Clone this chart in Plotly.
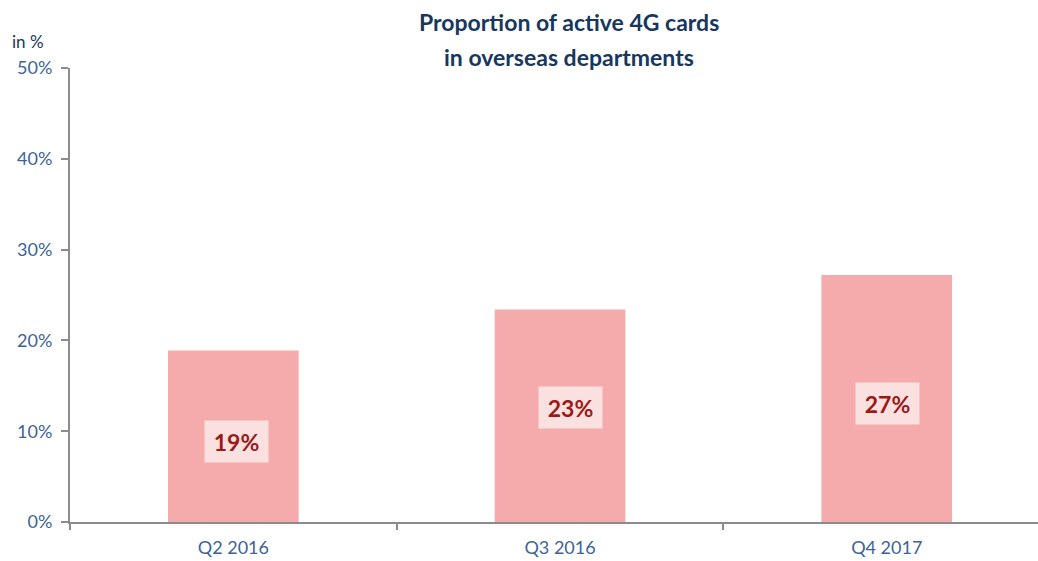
import plotly.graph_objects as go

categories = ["Q2 2016", "Q3 2016", "Q4 2017"]
values = [18.9, 23.4, 27.2]
labels = ["19%", "23%", "27%"]
y_ticks = [0, 10, 20, 30, 40, 50]
y_tick_text = ["0%", "10%", "20%", "30%", "40%", "50%"]

title_lines = ["Proportion of active 4G cards", "in overseas departments"]
unit_text = "in %"

FONT = "Lato"
TICK_COLOR = "#3D6497"
TITLE_COLOR = "#17375E"
AXIS_COLOR = "#8C8C8C"
BAR_COLOR = "#F5ABAB"
LABEL_BG = "#FBE0E0"
LABEL_COLOR = "#9A1A1A"

# label placement tweaks (fraction of bar height, horizontal shift in px)
label_frac = [0.47, 0.54, 0.48]
label_xshift = [3, 10, 1]

fig = go.Figure()
fig.add_trace(go.Bar(
    x=categories, y=values, marker=dict(color=BAR_COLOR, line=dict(width=0)),
    width=0.40, hoverinfo="skip",
))

for c, v, t, f, xs in zip(categories, values, labels, label_frac, label_xshift):
    fig.add_annotation(
        x=c, y=v * f, xref="x", yref="y", text="<b>%s</b>" % t, showarrow=False,
        font=dict(family=FONT, size=23, color=LABEL_COLOR),
        bgcolor=LABEL_BG, width=55, height=33, borderpad=4, xshift=xs,
    )

for i, line in enumerate(title_lines):
    fig.add_annotation(
        x=0.515, y=1.0, xref="paper", yref="paper", xanchor="center", yanchor="middle",
        yshift=46 - 35 * i, text="<b>%s</b>" % line, showarrow=False,
        font=dict(family=FONT, size=23, color=TITLE_COLOR),
    )
fig.add_annotation(
    x=-0.062, y=1.0, xref="paper", yref="paper", xanchor="left", yanchor="bottom",
    text=unit_text, showarrow=False, yshift=14,
    font=dict(family=FONT, size=17, color=TITLE_COLOR),
)

fig.update_layout(
    width=1038, height=561,
    margin=dict(l=70, r=0, t=68, b=39, autoexpand=False),
    paper_bgcolor="white", plot_bgcolor="white",
    showlegend=False, bargap=0.6,
    xaxis=dict(
        type="category", range=[-0.5, 2.463], tickson="boundaries",
        ticks="outside", ticklen=6, tickcolor=AXIS_COLOR, tickwidth=2,
        showline=True, linecolor=AXIS_COLOR, linewidth=2,
        showgrid=False, zeroline=False, automargin=False, ticklabelstandoff=8,
        tickfont=dict(family=FONT, size=18, color=TICK_COLOR),
    ),
    yaxis=dict(
        range=[0, 50], tickvals=y_ticks, ticktext=y_tick_text,
        ticks="outside", ticklen=7, tickcolor=AXIS_COLOR, tickwidth=2,
        showline=True, linecolor=AXIS_COLOR, linewidth=2,
        showgrid=False, zeroline=False, automargin=False, ticklabelstandoff=5,
        tickfont=dict(family=FONT, size=18, color=TICK_COLOR),
    ),
)

fig.write_html(
    "out.html",
    config={"displayModeBar": False},
    post_script="document.body.style.margin='0';document.body.style.overflow='hidden';",
)
